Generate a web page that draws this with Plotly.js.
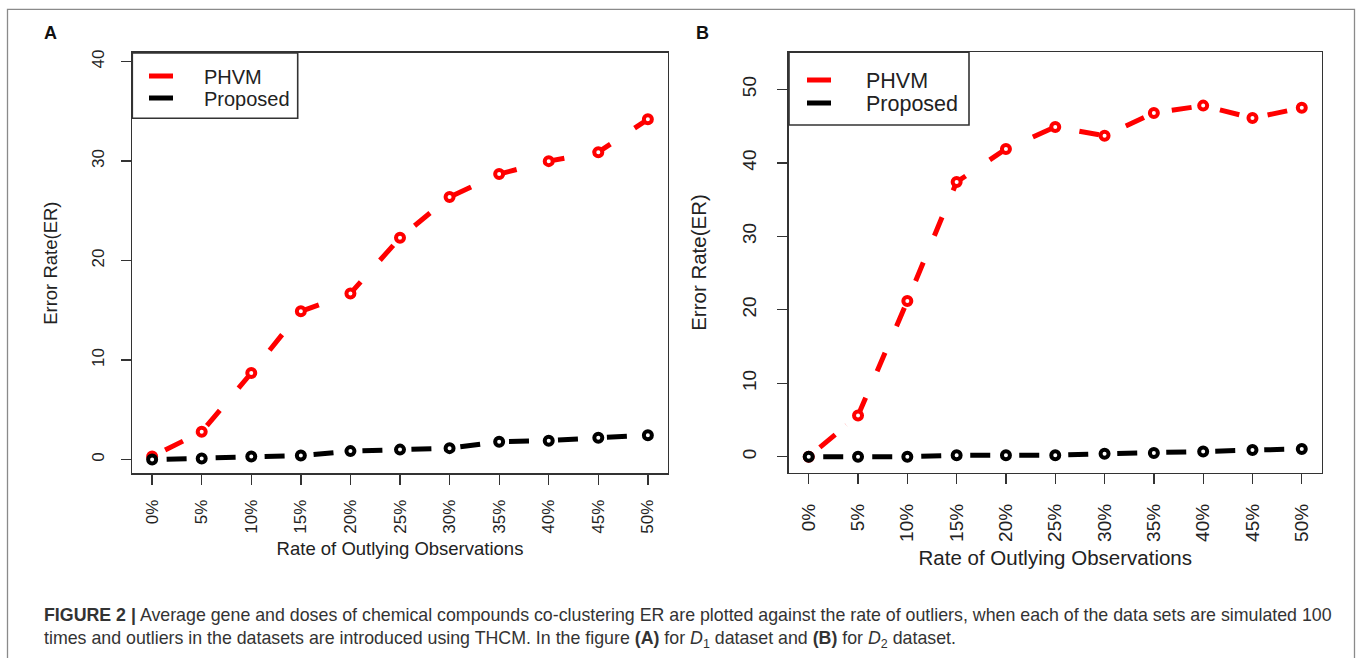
<!DOCTYPE html>
<html>
<head>
<meta charset="utf-8">
<script src="https://cdn.plot.ly/plotly-3.0.1.min.js"></script>
<style>
html,body{margin:0;padding:0;background:#fff;}
#chart{width:1358px;height:658px;}
</style>
</head>
<body>
<div id="chart"></div>
<script>
// ---------------- data ----------------
const rates = ['0%','5%','10%','15%','20%','25%','30%','35%','40%','45%','50%'];
const phvmA     = [0.3, 2.8, 8.7, 14.9, 16.7, 22.3, 26.4, 28.7, 30.0, 30.9, 34.2];
const proposedA = [0.0, 0.1, 0.3, 0.4, 0.85, 1.0, 1.15, 1.8, 1.9, 2.2, 2.45];
const phvmB     = [0.0, 5.6, 21.2, 37.4, 41.9, 44.9, 43.7, 46.8, 47.8, 46.1, 47.5];
const proposedB = [0.0, 0.0, 0.0, 0.2, 0.2, 0.2, 0.4, 0.5, 0.7, 0.9, 1.05];
const seriesNames = ['PHVM', 'Proposed'];
const yTicksA = [0, 10, 20, 30, 40];
const yTicksB = [0, 10, 20, 30, 40, 50];
const xTitle = 'Rate of Outlying Observations';
const yTitle = 'Error Rate(ER)';

// ---------------- geometry helpers ----------------
const W = 1358, H = 658;
const px = x => x / W;
const py = y => 1 - y / H;

const RED = '#ff0000', BLACK = '#000000', AX = '#333333';
const FONT = 'Liberation Sans, Arial, Helvetica, sans-serif';

function lineTrace(y, color, xa, ya) {
  return {x: rates, y: y, xaxis: xa, yaxis: ya, type: 'scatter', mode: 'lines',
    line: {color: color, width: 5, dash: '0.01px,14.5px,20px,14.5px'},
    showlegend: false, hoverinfo: 'skip'};
}
function markerTrace(y, color, xa, ya, name) {
  return {x: rates, y: y, xaxis: xa, yaxis: ya, type: 'scatter', mode: 'markers', name: name,
    marker: {symbol: 'circle', size: 8, color: '#ffffff', line: {color: color, width: 4}},
    showlegend: false};
}
function legendTrace(name, color, xa, ya, leg) {
  return {x: [null], y: [null], xaxis: xa, yaxis: ya, type: 'scatter', mode: 'lines', name: name,
    line: {color: color, width: 5, dash: '24px,200px'}, legend: leg, showlegend: true};
}

const data = [
  lineTrace(phvmA, RED, 'x', 'y'),
  markerTrace(phvmA, RED, 'x', 'y', seriesNames[0]),
  lineTrace(proposedA, BLACK, 'x', 'y'),
  markerTrace(proposedA, BLACK, 'x', 'y', seriesNames[1]),
  lineTrace(phvmB, RED, 'x2', 'y2'),
  markerTrace(phvmB, RED, 'x2', 'y2', seriesNames[0]),
  lineTrace(proposedB, BLACK, 'x2', 'y2'),
  markerTrace(proposedB, BLACK, 'x2', 'y2', seriesNames[1]),
  legendTrace(seriesNames[0], RED, 'x', 'y', 'legend'),
  legendTrace(seriesNames[1], BLACK, 'x', 'y', 'legend2'),
  legendTrace(seriesNames[0], RED, 'x2', 'y2', 'legend3'),
  legendTrace(seriesNames[1], BLACK, 'x2', 'y2', 'legend4')
];

function xAxis(domain, anchor, fs, tfs, standoff, tstand) {
  return {domain: domain, anchor: anchor, type: 'category', range: [-0.4, 10.4],
    tickangle: -90, ticks: 'outside', ticklen: 10, tickwidth: 1.3, tickcolor: AX,
    showline: true, mirror: true, linecolor: AX, linewidth: 1.6,
    showgrid: false, zeroline: false, fixedrange: true,
    tickfont: {size: fs, color: '#222'}, ticklabelstandoff: standoff,
    title: {text: xTitle, font: {size: tfs, color: '#222'}, standoff: tstand}};
}
function yAxis(domain, anchor, range, ticks, fs, tfs, standoff, tstand) {
  return {domain: domain, anchor: anchor, range: range, tickvals: ticks,
    tickangle: -90, ticks: 'outside', ticklen: 10, tickwidth: 1.3, tickcolor: AX,
    showline: true, mirror: true, linecolor: AX, linewidth: 1.6,
    showgrid: false, zeroline: false, fixedrange: true,
    tickfont: {size: fs, color: '#222'}, ticklabelstandoff: standoff,
    title: {text: yTitle, font: {size: tfs, color: '#222'}, standoff: tstand}};
}
function legendAt(x, y, fs, iw) {
  return {x: px(x), y: py(y), xanchor: 'left', yanchor: 'middle', xref: 'paper', yref: 'paper',
    bgcolor: 'rgba(0,0,0,0)', borderwidth: 0, font: {size: fs, color: '#222'},
    itemwidth: iw, itemclick: false, itemdoubleclick: false};
}

const layout = {
  width: W, height: H,
  margin: {l: 0, r: 0, t: 0, b: 0, pad: 0},
  paper_bgcolor: '#ffffff', plot_bgcolor: '#ffffff',
  font: {family: FONT, color: '#222'},
  xaxis: xAxis([px(132.3), px(667.7)], 'y', 17, 18.5, 8, 9),
  yaxis: yAxis([py(473.3), py(53)], 'x', [-1.38, 40.87], yTicksA, 17, 18.5, 10, 26),
  xaxis2: xAxis([px(789), px(1321.5)], 'y2', 19, 20.5, 12, 10),
  yaxis2: yAxis([py(472.7), py(52.3)], 'x2', [-2.18, 55.06], yTicksB, 19, 20.5, 14, 26),
  legend: legendAt(144, 76, 20, 50),
  legend2: legendAt(144, 98, 20, 50),
  legend3: legendAt(802, 80, 21.5, 54),
  legend4: legendAt(802, 103, 21.5, 54),
  shapes: [
    // outer figure frame
    {type: 'rect', xref: 'paper', yref: 'paper', x0: px(7.5), x1: px(1354.5), y0: -0.05, y1: py(9.3),
      line: {color: '#8a8a8a', width: 1.3}, fillcolor: 'rgba(0,0,0,0)'},
    // legend boxes
    {type: 'rect', xref: 'paper', yref: 'paper', x0: px(132.3), x1: px(297.7), y0: py(118.3), y1: py(53),
      line: {color: AX, width: 1.6}, fillcolor: 'rgba(0,0,0,0)'},
    {type: 'rect', xref: 'paper', yref: 'paper', x0: px(789), x1: px(969), y0: py(125), y1: py(52.3),
      line: {color: AX, width: 1.6}, fillcolor: 'rgba(0,0,0,0)'}
  ],
  annotations: [
    {text: '<b>A</b>', xref: 'paper', yref: 'paper', x: px(50), y: py(33), xanchor: 'center', yanchor: 'middle',
      showarrow: false, font: {size: 18, color: '#111'}},
    {text: '<b>B</b>', xref: 'paper', yref: 'paper', x: px(702), y: py(33), xanchor: 'center', yanchor: 'middle',
      showarrow: false, font: {size: 18, color: '#111'}},
    {text: '<b>FIGURE 2 |</b> Average gene and doses of chemical compounds co-clustering ER are plotted against the rate of outliers, when each of the data sets are simulated 100<br>times and outliers in the datasets are introduced using THCM. In the figure <b>(A)</b> for <i>D</i><sub>1</sub> dataset and <b>(B)</b> for <i>D</i><sub>2</sub> dataset.',
      xref: 'paper', yref: 'paper', x: px(42), y: py(603), xanchor: 'left', yanchor: 'top', align: 'left',
      showarrow: false, font: {size: 17.8, color: '#333'}}
  ]
};

Plotly.newPlot('chart', data, layout, {displayModeBar: false, staticPlot: true});
</script>
</body>
</html>
